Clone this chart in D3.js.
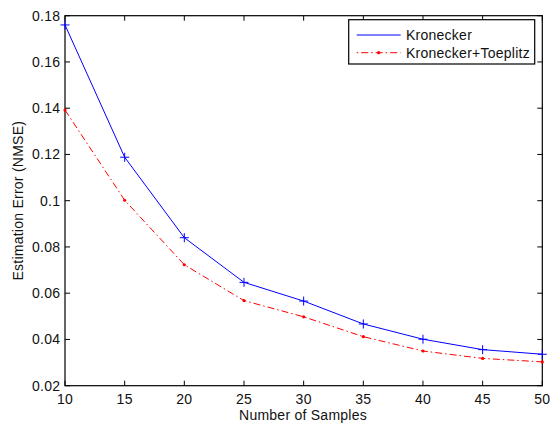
<!DOCTYPE html>
<html><head><meta charset="utf-8">
<script src="https://cdn.jsdelivr.net/npm/d3@7"></script>
<style>body{margin:0;background:#fff}svg{display:block}text{font-family:"Liberation Sans",Arial,sans-serif;letter-spacing:0.25px;fill:#111}</style>
</head><body><svg id="c" width="550" height="423"></svg>
<script>
const samples = [10, 15, 20, 25, 30, 35, 40, 45, 50];
const kron = [0.1760, 0.1188, 0.0840, 0.0647, 0.0566, 0.0467, 0.0401, 0.0356, 0.0336];
const kronToep = [0.1392, 0.1002, 0.0723, 0.0568, 0.0498, 0.0412, 0.0350, 0.0318, 0.0303];
const xTicks = [10, 15, 20, 25, 30, 35, 40, 45, 50];
const yTicks = [0.02, 0.04, 0.06, 0.08, 0.1, 0.12, 0.14, 0.16, 0.18];
const yTickLabels = ["0.02","0.04","0.06","0.08","0.1","0.12","0.14","0.16","0.18"];
const seriesNames = ["Kronecker", "Kronecker+Toeplitz"];

const svg = d3.select("#c");
const m = {l: 65, r: 542.3, t: 15.7, b: 385.7};
const x = d3.scaleLinear().domain([10, 50]).range([m.l, m.r]);
const y = d3.scaleLinear().domain([0.02, 0.18]).range([m.b, m.t]);
const fs = 14;

const g = svg.append("g");
const tl = 5;
xTicks.forEach(t => {
  g.append("line").attr("x1", x(t)).attr("x2", x(t)).attr("y1", m.b).attr("y2", m.b - tl).attr("stroke", "#000");
  g.append("line").attr("x1", x(t)).attr("x2", x(t)).attr("y1", m.t).attr("y2", m.t + tl).attr("stroke", "#000");
  g.append("text").attr("x", x(t)).attr("y", 403.5).attr("text-anchor", "middle").attr("font-size", fs).text(t);
});
yTicks.forEach((t, i) => {
  g.append("line").attr("x1", m.l).attr("x2", m.l + tl).attr("y1", y(t)).attr("y2", y(t)).attr("stroke", "#000");
  g.append("line").attr("x1", m.r).attr("x2", m.r - tl).attr("y1", y(t)).attr("y2", y(t)).attr("stroke", "#000");
  g.append("text").attr("x", 60.3).attr("y", y(t) + 5).attr("text-anchor", "end").attr("font-size", fs).text(yTickLabels[i]);
});
g.append("rect").attr("x", m.l).attr("y", m.t).attr("width", m.r - m.l).attr("height", m.b - m.t)
  .attr("fill", "none").attr("stroke", "#000").attr("stroke-width", 1.2);

const line = d3.line().x(d => x(d[0])).y(d => y(d[1]));
const d1 = samples.map((s, i) => [s, kron[i]]);
const d2 = samples.map((s, i) => [s, kronToep[i]]);

g.append("path").datum(d2).attr("d", line).attr("fill", "none").attr("stroke", "#ff0000")
  .attr("stroke-width", 1).attr("stroke-dasharray", "7,3,1.5,3");
d2.forEach(d => g.append("circle").attr("cx", x(d[0])).attr("cy", y(d[1])).attr("r", 1.6).attr("fill", "#ff0000"));

g.append("path").datum(d1).attr("d", line).attr("fill", "none").attr("stroke", "#0000ff").attr("stroke-width", 1);
const plus = (cx, cy) => {
  g.append("line").attr("x1", cx - 4.5).attr("x2", cx + 4.5).attr("y1", cy).attr("y2", cy).attr("stroke", "#0000ff");
  g.append("line").attr("x1", cx).attr("x2", cx).attr("y1", cy - 4.5).attr("y2", cy + 4.5).attr("stroke", "#0000ff");
};
d1.forEach(d => plus(x(d[0]), y(d[1])));

g.append("text").attr("x", 303).attr("y", 419.5).attr("text-anchor", "middle").attr("font-size", fs).text("Number of Samples");
g.append("text").attr("transform", "translate(22.5," + ((m.t + m.b) / 2) + ") rotate(-90)")
  .attr("text-anchor", "middle").attr("font-size", fs).text("Estimation Error (NMSE)");

const lg = svg.append("g");
lg.append("rect").attr("x", 348.7).attr("y", 19.7).attr("width", 186).attr("height", 44.3)
  .attr("fill", "#fff").attr("stroke", "#000").attr("stroke-width", 1.2);
lg.append("line").attr("x1", 356.7).attr("x2", 400.7).attr("y1", 35).attr("y2", 35).attr("stroke", "#0000ff");
plus(378.7, 35);
lg.append("line").attr("x1", 356.7).attr("x2", 400.7).attr("y1", 52.7).attr("y2", 52.7).attr("stroke", "#ff0000").attr("stroke-dasharray", "1.5,3,7,3");
lg.append("circle").attr("cx", 378.7).attr("cy", 52.7).attr("r", 1.6).attr("fill", "#ff0000");
lg.append("text").attr("x", 406).attr("y", 40).attr("font-size", fs).text(seriesNames[0]);
lg.append("text").attr("x", 406).attr("y", 57.7).attr("font-size", fs).text(seriesNames[1]);
</script></body></html>
